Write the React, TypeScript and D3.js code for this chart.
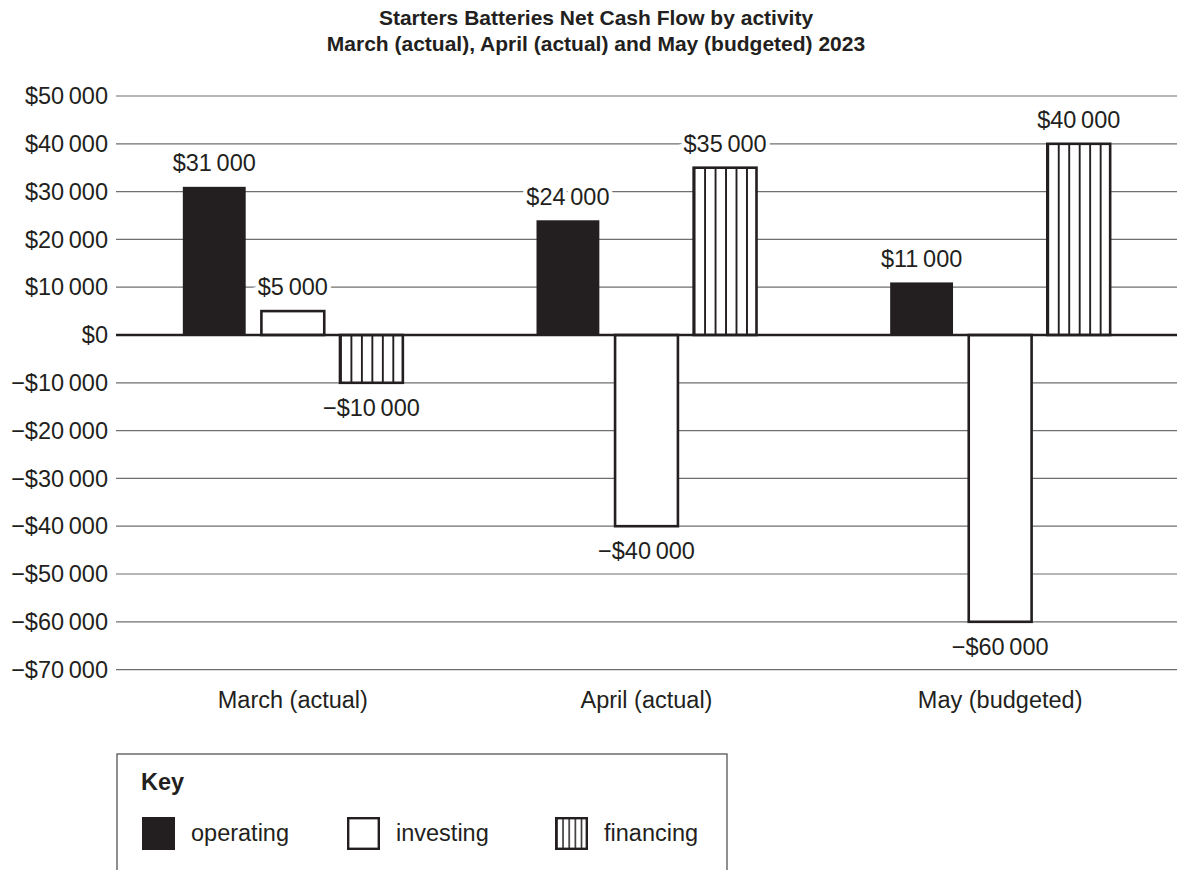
import { useEffect, useRef } from 'react';
import * as d3 from 'd3';

const months = ['March (actual)', 'April (actual)', 'May (budgeted)'];
const activities = ['operating', 'investing', 'financing'];
const operating = [31000, 24000, 11000];
const investing = [5000, -40000, -60000];
const financing = [-10000, 35000, 40000];
const yTicks = [50000, 40000, 30000, 20000, 10000, 0, -10000, -20000, -30000, -40000, -50000, -60000, -70000];

const W = 1177;
const H = 870;
const FONT = '"Liberation Sans", Arial, sans-serif';
const DARK = '#231f20';
const FS = 23.5;

// "$31 000" style with a thin gap and a real minus sign
function money(v: number) {
  const s = String(Math.abs(v)).replace(/(\d)(\d{3})$/, '$1\u2009$2');
  return (v < 0 ? '\u2212$' : '$') + s;
}

export default function App() {
  const svgRef = useRef<SVGSVGElement>(null);

  useEffect(() => {
    if (!svgRef.current) return;
    const svg = d3.select(svgRef.current);
    svg.selectAll('*').remove();

    const margin = { left: 116, right: 0 };
    const groupW = 220;
    const y = d3.scaleLinear().domain([50000, -70000]).range([96, 669.6]);
    const x0 = d3.scaleBand<string>().domain(months).range([margin.left, W - margin.right]);
    const x1 = d3.scaleBand<string>().domain(activities).range([0, groupW]).paddingInner(0.2);

    // vertical hatching, tiles sized relative to each bar so lines sit evenly inside
    const defs = svg.append('defs');
    const hatch = (id: string, parts: number, sw: number) => {
      const p = defs.append('pattern')
        .attr('id', id)
        .attr('patternUnits', 'objectBoundingBox')
        .attr('width', 1 / parts)
        .attr('height', 1);
      p.append('rect').attr('width', 200).attr('height', 2000).attr('fill', '#fff');
      p.append('line').attr('x1', sw / 2).attr('x2', sw / 2).attr('y1', 0).attr('y2', 2000)
        .attr('stroke', DARK).attr('stroke-width', sw);
    };
    hatch('vlines', 6, 1.9);
    hatch('vlinesKey', 5, 1.5);

    // title
    const title = svg.append('text')
      .attr('text-anchor', 'middle')
      .attr('font-family', FONT)
      .attr('font-weight', 'bold')
      .attr('font-size', 21)
      .attr('fill', DARK);
    title.append('tspan').attr('x', 596).attr('y', 25).text('Starters Batteries Net Cash Flow by activity');
    title.append('tspan').attr('x', 596).attr('y', 51).text('March (actual), April (actual) and May (budgeted) 2023');

    // grid
    svg.append('g').selectAll('line')
      .data(yTicks.filter(d => d !== 0))
      .join('line')
      .attr('x1', margin.left).attr('x2', W)
      .attr('y1', d => y(d)).attr('y2', d => y(d))
      .attr('stroke', '#6f6f6f').attr('stroke-width', 1.2);

    svg.append('g').selectAll('text')
      .data(yTicks)
      .join('text')
      .attr('x', 108)
      .attr('y', d => y(d))
      .attr('dy', '0.35em')
      .attr('text-anchor', 'end')
      .attr('font-family', FONT)
      .attr('font-size', FS)
      .attr('fill', DARK)
      .text(d => money(d));

    const series = months.map((m, i) => [
      { m, key: 'operating', v: operating[i] },
      { m, key: 'investing', v: investing[i] },
      { m, key: 'financing', v: financing[i] },
    ]).flat();

    const fillFor = (k: string) => k === 'operating' ? DARK : k === 'investing' ? '#fff' : 'url(#vlines)';
    const bx = (d: { m: string; key: string }) => (x0(d.m) ?? 0) + (x0.bandwidth() - groupW) / 2 + (x1(d.key) ?? 0);

    svg.append('g').selectAll('rect')
      .data(series)
      .join('rect')
      .attr('x', d => bx(d))
      .attr('width', x1.bandwidth())
      .attr('y', d => Math.min(y(d.v), y(0)))
      .attr('height', d => Math.abs(y(d.v) - y(0)))
      .attr('fill', d => fillFor(d.key))
      .attr('stroke', DARK)
      .attr('stroke-width', d => d.key === 'operating' ? 0 : 2.6);

    // zero line
    svg.append('line')
      .attr('x1', margin.left).attr('x2', W)
      .attr('y1', y(0)).attr('y2', y(0))
      .attr('stroke', DARK).attr('stroke-width', 2.4);

    // value labels
    svg.append('g').selectAll('text')
      .data(series)
      .join('text')
      .attr('x', d => bx(d) + x1.bandwidth() / 2)
      .attr('y', d => d.v >= 0 ? y(d.v) - 24 : y(d.v) + 25)
      .attr('dy', '0.35em')
      .attr('text-anchor', 'middle')
      .attr('font-family', FONT)
      .attr('font-size', FS)
      .attr('fill', DARK)
      .attr('stroke', '#fff')
      .attr('stroke-width', 8)
      .attr('paint-order', 'stroke')
      .text(d => money(d.v));

    // category labels
    svg.append('g').selectAll('text')
      .data(months)
      .join('text')
      .attr('x', d => (x0(d) ?? 0) + x0.bandwidth() / 2)
      .attr('y', 700)
      .attr('dy', '0.35em')
      .attr('text-anchor', 'middle')
      .attr('font-family', FONT)
      .attr('font-size', FS)
      .attr('fill', DARK)
      .text(d => d);

    // key
    const key = svg.append('g');
    key.append('rect')
      .attr('x', 117).attr('y', 754).attr('width', 610).attr('height', 140)
      .attr('fill', '#fff').attr('stroke', '#555').attr('stroke-width', 1.3);
    key.append('text')
      .attr('x', 141).attr('y', 790)
      .attr('font-family', FONT).attr('font-weight', 'bold').attr('font-size', FS)
      .attr('fill', DARK).text('Key');
    const keyX = [142, 347, 555];
    activities.forEach((a, i) => {
      const solid = a === 'operating';
      key.append('rect')
        .attr('x', keyX[i] + (solid ? 0 : 1.2))
        .attr('y', 817 + (solid ? 0 : 1.2))
        .attr('width', solid ? 33 : 30.6)
        .attr('height', solid ? 33 : 30.6)
        .attr('fill', a === 'financing' ? 'url(#vlinesKey)' : fillFor(a))
        .attr('stroke', DARK)
        .attr('stroke-width', solid ? 0 : 2.4);
      key.append('text')
        .attr('x', keyX[i] + 49)
        .attr('y', 833)
        .attr('dy', '0.35em')
        .attr('font-family', FONT).attr('font-size', FS)
        .attr('fill', DARK).text(a);
    });
  }, []);

  return (
    <svg
      ref={svgRef}
      width={W}
      height={H}
      style={{ display: 'block', position: 'absolute', left: 0, top: 0 }}
    />
  );
}
